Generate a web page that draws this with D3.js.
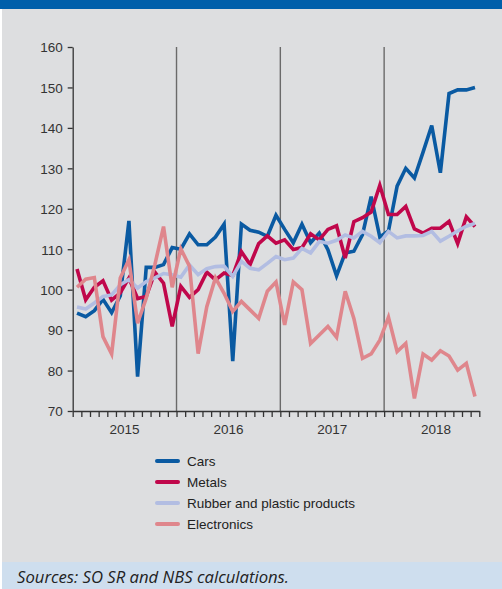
<!DOCTYPE html>
<html>
<head>
<meta charset="utf-8">
<script src="https://cdn.jsdelivr.net/npm/d3@7"></script>
<style>
  html, body { margin: 0; padding: 0; background: #fff; }
  svg { display: block; }
  .axis path, .axis line { stroke: #333; stroke-width: 1.3; }
  .axis text { font-family: "Liberation Sans", Arial, sans-serif; font-size: 13.5px; fill: #333; }
</style>
</head>
<body>
<div id="chart"></div>
<script>
// monthly index, Jan 2015 .. Nov 2018
var years = ["2015", "2016", "2017", "2018"];
var yTicks = [70, 80, 90, 100, 110, 120, 130, 140, 150, 160];

var cars = [94.2, 93.3, 94.8, 97.6, 94.3, 98.5, 117, 78.5, 105.5, 105.5, 106.2, 110.4,
            110, 113.8, 111.1, 111.1, 113, 116.2, 82.3, 116.2, 114.7, 114.2, 113.2, 118.4,
            114.9, 111.6, 116.2, 111.6, 114, 109.9, 103.4, 109.1, 109.5, 113.6, 123, 113,
            114.5, 125.6, 130, 127.6, 134, 140.6, 128.9, 148.5, 149.4, 149.4, 150];
var metals = [105.1, 97.5, 100.6, 102.2, 97.4, 99.2, 102.9, 97.8, 98.3, 104.3, 101.6, 90.9,
              100.8, 98.1, 100, 104.3, 102.4, 104.1, 103.5, 109.4, 106.2, 111.4, 113.3, 111.5,
              112.3, 109.9, 110.4, 113.8, 112.3, 114.9, 115.8, 107.8, 116.8, 117.8, 119.2, 125.8,
              118.6, 118.6, 120.6, 115, 114, 115.2, 115.2, 116.9, 111.4, 118, 115.6];
var rubber = [95.7, 95.2, 96.7, 98.3, 98.7, 101.2, 102.5, 100.4, 102, 102.9, 104, 103.7,
              103.1, 106.1, 103.7, 105.2, 105.7, 105.8, 103.3, 107, 105.3, 104.9, 106.5, 108.2,
              107.4, 107.8, 110.2, 109.1, 111.9, 111.5, 112.2, 113.5, 112.8, 114.4, 113.2, 111.6,
              114.4, 112.8, 113.3, 113.3, 113.4, 114.4, 112, 113.2, 114.5, 115.7, 116.4];
var electronics = [100.6, 102.6, 103, 88.4, 84.1, 102.9, 107.4, 91.7, 97.9, 106.2, 115.6, 100.6,
                   110.1, 105.8, 84.2, 95.8, 102.9, 99.1, 94.6, 97.1, 95, 92.9, 99.6, 101.9,
                   91.3, 101.9, 100, 86.7, 88.8, 90.9, 88.2, 99.6, 92.9, 83, 84.1, 87.5,
                   93.2, 84.7, 86.7, 73.1, 84.1, 82.6, 84.9, 83.6, 80.1, 81.8, 73.6];

var seriesNames = ["Cars", "Metals", "Rubber and plastic products", "Electronics"];
var seriesColors = ["#0a5aa2", "#c0074b", "#b2bde2", "#df868c"];
var seriesData = [cars, metals, rubber, electronics];

var W = 502, H = 589;

var svg = d3.select("#chart").append("svg")
    .attr("width", W)
    .attr("height", H);

// background pieces
svg.append("rect").attr("x", 0).attr("y", 0).attr("width", W).attr("height", H).attr("fill", "#ffffff");
svg.append("rect").attr("x", 2).attr("y", 9).attr("width", W - 2).attr("height", 553).attr("fill", "#dddee0");
svg.append("rect").attr("x", 0).attr("y", 0).attr("width", W).attr("height", 9).attr("fill", "#005faa");
svg.append("rect").attr("x", 2).attr("y", 562).attr("width", W - 2).attr("height", 27).attr("fill", "#cedeee");

var x = d3.scaleLinear().domain([0, 47]).range([72.7, 479.3]);
var y = d3.scaleLinear().domain([70, 160]).range([411, 47]);

// year separators
svg.append("g").selectAll("line")
    .data([12, 24, 36])
    .enter().append("line")
    .attr("x1", function(d) { return x(d); })
    .attr("x2", function(d) { return x(d); })
    .attr("y1", y(160))
    .attr("y2", y(70))
    .attr("stroke", "#6a6a6a")
    .attr("stroke-width", 1.4);

// y axis
var yAxis = svg.append("g")
    .attr("class", "axis")
    .attr("transform", "translate(" + x(0) + ",0)")
    .call(d3.axisLeft(y).tickValues(yTicks).tickSize(5).tickSizeOuter(0).tickPadding(5));
yAxis.selectAll("text").attr("dy", "0.36em");

// x axis: one tick per month
var xAxis = svg.append("g")
    .attr("class", "axis")
    .attr("transform", "translate(0," + y(70) + ")")
    .call(d3.axisBottom(x).tickValues(d3.range(0, 48)).tickSize(6).tickSizeOuter(0).tickFormat(""));

svg.append("g").selectAll("text")
    .data(years)
    .enter().append("text")
    .attr("x", function(d, i) { return x(i * 12 + 6); })
    .attr("y", 434)
    .attr("text-anchor", "middle")
    .attr("font-family", "Liberation Sans, Arial, sans-serif")
    .attr("font-size", "13.5px")
    .attr("fill", "#333")
    .text(function(d) { return d; });

// lines
var line = d3.line()
    .x(function(d, i) { return x(i + 0.5); })
    .y(function(d) { return y(d); });

svg.append("g").selectAll("path")
    .data(seriesData)
    .enter().append("path")
    .attr("d", line)
    .attr("fill", "none")
    .attr("stroke", function(d, i) { return seriesColors[i]; })
    .attr("stroke-width", 3.6)
    .attr("stroke-linejoin", "miter");

// draw order: electronics under others as in picture
// legend
var legend = svg.append("g").attr("transform", "translate(157,461)");
var rows = legend.selectAll("g")
    .data(seriesNames)
    .enter().append("g")
    .attr("transform", function(d, i) { return "translate(0," + (i * 21) + ")"; });
rows.append("line")
    .attr("x1", 0).attr("x2", 21)
    .attr("stroke", function(d, i) { return seriesColors[i]; })
    .attr("stroke-width", 4)
    .attr("stroke-linecap", "round");
rows.append("text")
    .attr("x", 30)
    .attr("dy", "0.35em")
    .attr("font-family", "Liberation Sans, Arial, sans-serif")
    .attr("font-size", "13.5px")
    .attr("fill", "#222")
    .text(function(d) { return d; });

// footer
svg.append("text")
    .attr("x", 17)
    .attr("y", 583)
    .attr("font-family", "Open Sans, sans-serif")
    .attr("font-style", "italic")
    .attr("font-size", "15.5px")
    .attr("fill", "#222")
    .attr("textLength", 272)
    .attr("lengthAdjust", "spacingAndGlyphs")
    .text("Sources: SO SR and NBS calculations.");
</script>
</body>
</html>
